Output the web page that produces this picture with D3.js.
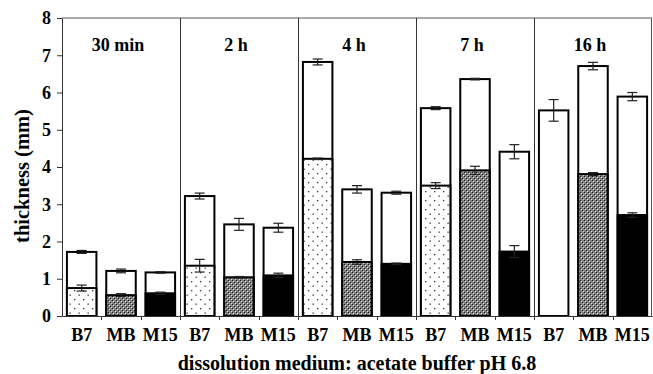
<!DOCTYPE html>
<html>
<head>
<meta charset="utf-8">
<script src="https://cdn.jsdelivr.net/npm/d3@7"></script>
<style>
  body { margin: 0; background: #fff; }
  svg text { font-family: "Liberation Serif", Tinos, "Times New Roman", "DejaVu Serif", serif !important; font-weight: bold; }
</style>
</head>
<body>
<div id="chart"></div>
<script>
const groups = ["30 min", "2 h", "4 h", "7 h", "16 h"];
const formulations = ["B7", "MB", "M15"];
// total thickness (outer white bar), mm
const totalThickness = [[1.72, 1.21, 1.17], [3.22, 2.46, 2.37], [6.82, 3.40, 3.31], [5.58, 6.36, 4.41], [5.52, 6.71, 5.89]];
const totalErr = [[0.04, 0.05, 0.02], [0.08, 0.16, 0.12], [0.08, 0.10, 0.04], [0.04, 0.02, 0.19], [0.29, 0.10, 0.11]];
// inner (patterned) layer
const coreThickness = [[0.75, 0.56, 0.61], [1.35, 1.04, 1.09], [4.22, 1.45, 1.40], [3.50, 3.91, 1.73], [null, 3.81, 2.71]];
const coreErr = [[0.08, 0.04, 0.03], [0.17, 0.02, 0.06], [0.02, 0.06, 0.02], [0.08, 0.11, 0.16], [null, 0.04, 0.06]];
const yTicks = [0, 1, 2, 3, 4, 5, 6, 7, 8];

const W = 653, H = 374;
const margin = { top: 18, right: 1, bottom: 58, left: 62 };
const FONT = "'Liberation Serif', Tinos, 'Times New Roman', 'DejaVu Serif', serif";

const svg = d3.select("#chart").append("svg")
    .attr("width", W).attr("height", H);

// patterns
const defs = svg.append("defs");
const dots = defs.append("pattern").attr("id", "dots")
    .attr("patternUnits", "userSpaceOnUse").attr("width", 9).attr("height", 9);
dots.append("rect").attr("width", 9).attr("height", 9).attr("fill", "#fff");
dots.append("rect").attr("x", 2).attr("y", 2).attr("width", 1.3).attr("height", 1.3).attr("fill", "#333");
dots.append("rect").attr("x", 6.5).attr("y", 6.5).attr("width", 1.3).attr("height", 1.3).attr("fill", "#333");

const check = defs.append("pattern").attr("id", "check")
    .attr("patternUnits", "userSpaceOnUse").attr("width", 4).attr("height", 4);
check.append("rect").attr("width", 4).attr("height", 4).attr("fill", "#808080");
check.append("rect").attr("x", 0).attr("y", 0).attr("width", 1).attr("height", 1).attr("fill", "#1a1a1a");
check.append("rect").attr("x", 2).attr("y", 2).attr("width", 1).attr("height", 1).attr("fill", "#1a1a1a");
check.append("rect").attr("x", 1).attr("y", 1).attr("width", 1).attr("height", 1).attr("fill", "#eee");
check.append("rect").attr("x", 3).attr("y", 3).attr("width", 1).attr("height", 1).attr("fill", "#ddd");

const fills = { B7: "url(#dots)", MB: "url(#check)", M15: "#000" };

// flatten
const rows = [];
groups.forEach((g, gi) => {
    formulations.forEach((f, fi) => {
        rows.push({
            key: g + "|" + f, group: g, form: f,
            total: totalThickness[gi][fi], totalErr: totalErr[gi][fi],
            core: coreThickness[gi][fi], coreErr: coreErr[gi][fi]
        });
    });
});

const x = d3.scaleBand()
    .domain(rows.map(d => d.key))
    .range([margin.left, W - margin.right])
    .padding(0);

const y = d3.scaleLinear()
    .domain([0, 8])
    .range([H - margin.bottom, margin.top]);

const barW = x.bandwidth() * 0.75;
const bx = d => x(d.key) + (x.bandwidth() - barW) / 2;
const cx = d => x(d.key) + x.bandwidth() / 2;

// frame: top, right, group separators
svg.append("line")
    .attr("x1", margin.left).attr("x2", W - margin.right)
    .attr("y1", y(8)).attr("y2", y(8))
    .attr("stroke", "#555").attr("stroke-width", 1);
svg.append("line")
    .attr("x1", W - margin.right - 0.5).attr("x2", W - margin.right - 0.5)
    .attr("y1", y(8)).attr("y2", y(0))
    .attr("stroke", "#555").attr("stroke-width", 1);

svg.selectAll(".sep")
    .data(groups.slice(1))
    .enter().append("line")
    .attr("class", "sep")
    .attr("x1", g => Math.round(x(g + "|B7")) + 0.5)
    .attr("x2", g => Math.round(x(g + "|B7")) + 0.5)
    .attr("y1", y(8)).attr("y2", y(0))
    .attr("stroke", "#333").attr("stroke-width", 1);

// group labels
svg.selectAll(".glabel")
    .data(groups)
    .enter().append("text")
    .attr("class", "glabel")
    .attr("x", g => x(g + "|MB") + x.bandwidth() / 2 - 3)
    .attr("y", 51)
    .attr("text-anchor", "middle")
    .attr("font-size", 18)
    .text(g => g);

// outer bars
svg.selectAll(".outer")
    .data(rows)
    .enter().append("rect")
    .attr("class", "outer")
    .attr("x", bx)
    .attr("y", d => y(d.total))
    .attr("width", barW)
    .attr("height", d => y(0) - y(d.total))
    .attr("fill", "#fff")
    .attr("stroke", "#000")
    .attr("stroke-width", 2);

// inner bars
const coreRows = rows.filter(d => d.core != null);
svg.selectAll(".inner")
    .data(coreRows)
    .enter().append("rect")
    .attr("class", "inner")
    .attr("x", bx)
    .attr("y", d => y(d.core))
    .attr("width", barW)
    .attr("height", d => y(0) - y(d.core))
    .attr("fill", d => fills[d.form])
    .attr("stroke", "#000")
    .attr("stroke-width", 2);

// error bars
function errBars(data, val, err, cls) {
    const g = svg.selectAll("." + cls)
        .data(data)
        .enter().append("g")
        .attr("class", cls)
        .attr("stroke", "#222")
        .attr("stroke-width", 1.2);
    g.append("line")
        .attr("x1", cx).attr("x2", cx)
        .attr("y1", d => y(val(d) + err(d))).attr("y2", d => y(val(d) - err(d)));
    g.append("line")
        .attr("x1", d => cx(d) - 5).attr("x2", d => cx(d) + 5)
        .attr("y1", d => y(val(d) + err(d))).attr("y2", d => y(val(d) + err(d)));
    g.append("line")
        .attr("x1", d => cx(d) - 5).attr("x2", d => cx(d) + 5)
        .attr("y1", d => y(val(d) - err(d))).attr("y2", d => y(val(d) - err(d)));
}
errBars(rows, d => d.total, d => d.totalErr, "errTotal");
errBars(coreRows, d => d.core, d => d.coreErr, "errCore");

// y axis
const yAxis = svg.append("g")
    .attr("transform", `translate(${margin.left},0)`)
    .call(d3.axisLeft(y).tickValues(yTicks).tickFormat(d3.format("d")).tickSize(5).tickSizeOuter(0).tickPadding(6));
yAxis.select(".domain").attr("stroke", "#333");
yAxis.selectAll(".tick line").attr("stroke", "#333");
yAxis.selectAll(".tick text").attr("font-size", 18).attr("fill", "#000")
    .style("font-family", FONT).style("font-weight", "bold");

// x axis
const xAxis = svg.append("g")
    .attr("transform", `translate(0,${y(0)})`)
    .call(d3.axisBottom(x).tickFormat(k => k.split("|")[1]).tickSize(0).tickPadding(12));
xAxis.select(".domain").attr("stroke", "#333");
xAxis.selectAll(".tick text").attr("font-size", 18).attr("fill", "#000")
    .style("font-family", FONT).style("font-weight", "bold");

// tick marks at band boundaries
svg.selectAll(".xtick")
    .data(rows.slice(1))
    .enter().append("line")
    .attr("class", "xtick")
    .attr("x1", d => Math.round(x(d.key)) + 0.5).attr("x2", d => Math.round(x(d.key)) + 0.5)
    .attr("y1", y(0)).attr("y2", y(0) + 4)
    .attr("stroke", "#333");

// axis titles
svg.append("text")
    .attr("transform", "rotate(-90)")
    .attr("x", -176)
    .attr("y", 29)
    .attr("text-anchor", "middle")
    .attr("font-size", 20.5)
    .text("thickness (mm)");

svg.append("text")
    .attr("x", (margin.left + W - margin.right) / 2)
    .attr("y", 370)
    .attr("text-anchor", "middle")
    .attr("font-size", 20)
    .text("dissolution medium: acetate buffer pH 6.8");
</script>
</body>
</html>
